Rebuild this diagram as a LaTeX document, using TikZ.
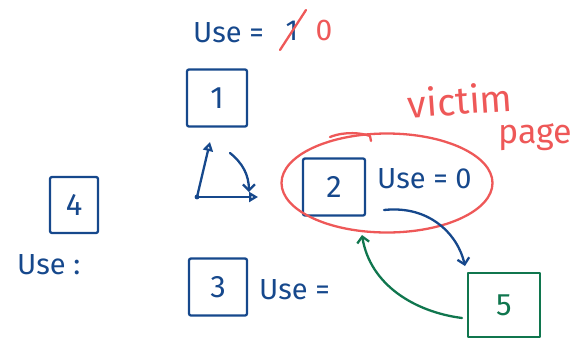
\documentclass[tikz,border=0pt]{standalone}
\usepackage{fontspec}
\setmainfont{Fira Sans}
\usetikzlibrary{arrows.meta,shapes.geometric}
\definecolor{inkblue}{RGB}{22,72,140}
\definecolor{inkred}{RGB}{238,88,88}
\definecolor{inkgreen}{RGB}{16,118,78}
\tikzset{
  pen/.style={line width=2.3pt, line cap=round, line join=round},
  pagebox/.style={pen, draw=inkblue, rounded corners=2pt, text=inkblue, font=\fontsize{31}{34}\selectfont, inner sep=0pt},
  bluetxt/.style={text=inkblue, font=\fontsize{29}{32}\selectfont, inner sep=0pt, anchor=west},
  redtxt/.style={text=inkred, font=\fontsize{30}{32}\selectfont, inner sep=0pt},
  barb/.style={-{Straight Barb[length=6pt,width=12pt,line width=2.3pt]}},
  tri/.style={-{Triangle[open,length=9pt,width=10pt,line width=2.3pt]}}
}
\begin{document}
\begin{tikzpicture}[x=1pt,y=-1pt]
\useasboundingbox (0,0) rectangle (583,341);
% top usage counter
\node[bluetxt] (use1) at (193,33) {Use =};
\node[text=inkblue, font=\fontsize{29}{32}\selectfont, inner sep=0pt] (one) at (292,31) {1};
\coordinate (xa) at (280,50);
\coordinate (xb) at (306,10);
\draw[pen, draw=inkred] (xa) -- (xb);
\node[redtxt] (zero) at (324,30) {0};
% box 1
\node[pagebox, minimum width=60pt, minimum height=57pt] (b1) at (217,98) {1};
% triangle of arrows
\coordinate (tL) at (197,197);
\coordinate (tT) at (210,142);
\coordinate (tR) at (258,197);
\coordinate (cS) at (230,153);
\coordinate (cE) at (249,192);
\fill[inkblue] (tL) circle (2.4pt);
\draw[pen, draw=inkblue, tri] (tL) -- (tT);
\draw[pen, draw=inkblue, tri] (tL) -- (tR);
\draw[pen, draw=inkblue, barb] (cS) to[bend left=25] (cE);
% victim ellipse with box 2
\node[pagebox, minimum width=62pt, minimum height=57pt] (b2) at (334,187) {2};
\node[bluetxt] (use2) at (377,179) {Use = 0};
\node[ellipse, pen, draw=inkred, minimum width=211pt, minimum height=99pt] (vic) at (387,183) {};
\coordinate (hk1) at (330,137);
\coordinate (hk2) at (370,136);
\coordinate (hk3) at (371,141);
\draw[pen, draw=inkred] (hk1) .. controls (345,131) and (362,133) .. (hk2) -- (hk3);
\node[redtxt, rotate=4, font=\fontsize{38}{40}\selectfont] (victim) at (460,100) {victim};
\node[redtxt, font=\fontsize{34}{36}\selectfont] (page) at (535,137) {page};
% box 4
\node[pagebox, minimum width=48pt, minimum height=56pt] (b4) at (74,205) {4};
\node[bluetxt] (use4) at (17,265) {Use :};
% box 3
\node[pagebox, minimum width=58pt, minimum height=57pt] (b3) at (218,287) {3};
\node[bluetxt] (use3) at (259,290) {Use =};
% box 5
\node[pen, draw=inkgreen, text=inkgreen, font=\fontsize{31}{34}\selectfont, minimum width=72pt, minimum height=64pt, inner sep=0pt] (b5) at (504,305) {5};
% blue arrow from victim to 5
\coordinate (bs) at (384,210);
\coordinate (be) at (465,266);
\draw[pen, draw=inkblue, barb] (bs) .. controls (430,205) and (458,235) .. (be);
% green arrow from 5 back
\coordinate (gs) at (462,318);
\coordinate (ge) at (362,235);
\draw[pen, draw=inkgreen, barb] (gs) .. controls (415,312) and (370,285) .. (ge);
\end{tikzpicture}
\end{document}
